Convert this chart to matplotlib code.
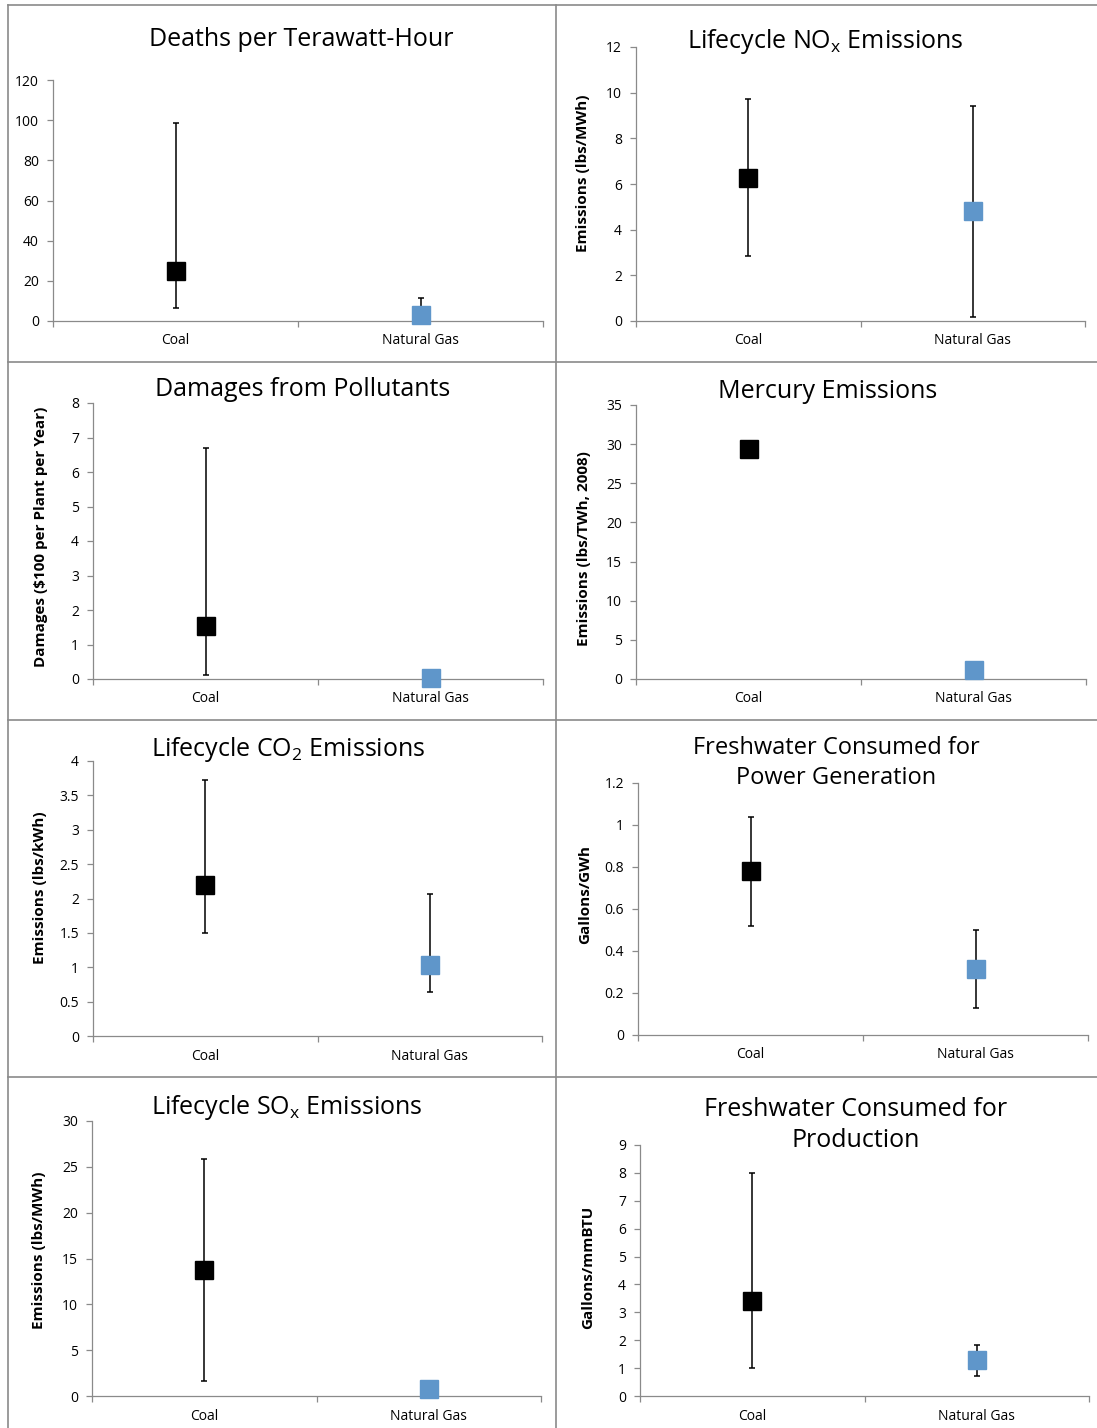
import matplotlib.pyplot as plt
from matplotlib.lines import Line2D

plt.rcParams['font.family'] = ['Open Sans', 'DejaVu Sans']
plt.rcParams['mathtext.fontset'] = 'custom'
plt.rcParams['mathtext.rm'] = 'Open Sans'

W, H = 1097, 1428

categories = ['Coal', 'Natural Gas']
colors = ['#000000', '#5f96ca']

# mid value, low end and high end of the range, per category (None = no bar)
deaths_mid = [24.8, 3.0]
deaths_low = [6.3, 2.0]
deaths_high = [98.4, 11.7]

nox_mid = [6.25, 4.81]
nox_low = [2.83, 0.19]
nox_high = [9.71, 9.43]

damages_mid = [1.55, 0.02]
damages_low = [0.12, None]
damages_high = [6.70, None]

mercury_mid = [29.4, 1.1]
mercury_low = [None, None]
mercury_high = [None, None]

co2_mid = [2.20, 1.03]
co2_low = [1.50, 0.64]
co2_high = [3.72, 2.06]

water_power_mid = [0.78, 0.314]
water_power_low = [0.52, 0.13]
water_power_high = [1.04, 0.50]

sox_mid = [13.76, 0.76]
sox_low = [1.64, None]
sox_high = [25.85, None]

water_prod_mid = [3.41, 1.30]
water_prod_low = [1.02, 0.73]
water_prod_high = [7.99, 1.82]

fig = plt.figure(figsize=(W / 100, H / 100), dpi=100)

# panel frames
border = '#8a8a8a'
for y in [5, 362, 720, 1077]:
    fig.add_artist(Line2D([8 / W, 1], [1 - y / H, 1 - y / H], color=border, lw=1.2))
for x in [8, 556]:
    fig.add_artist(Line2D([x / W, x / W], [0, 1 - 5 / H], color=border, lw=1.2))


def panel(box, ymax, step, mid, low, high, title, title_xy, ylabel=None, ylabel_xy=None,
          title_size=18):
    left, top, right, bottom = box
    ax = fig.add_axes([left / W, 1 - bottom / H, (right - left) / W, (bottom - top) / H])
    xs = [0.5, 1.5]
    for x, m, lo, hi, c in zip(xs, mid, low, high, colors):
        if lo is not None:
            ax.errorbar([x], [m], yerr=[[m - lo], [hi - m]], fmt='none', ecolor='black',
                        elinewidth=1.1, capsize=2.3, capthick=1.1, zorder=2)
        ax.plot([x], [m], marker='s', markersize=12.5, color=c, linestyle='none',
                zorder=3, clip_on=False)
    ax.set_xlim(0, 2)
    ax.set_ylim(0, ymax)
    ticks = []
    v = 0
    while v <= ymax + 1e-9:
        ticks.append(round(v, 6))
        v += step
    ax.set_yticks(ticks)
    ax.set_yticklabels(['{:g}'.format(t) for t in ticks])
    ax.set_xticks(xs)
    ax.set_xticklabels(categories)
    ax.set_xticks([0, 1, 2], minor=True)
    ax.tick_params(axis='x', which='major', length=0, pad=9, labelsize=10)
    ax.tick_params(axis='x', which='minor', length=4, color=border, width=0.9)
    ax.tick_params(axis='y', length=4, color=border, width=0.9, labelsize=10, pad=6)
    for s in ['top', 'right']:
        ax.spines[s].set_visible(False)
    for s in ['left', 'bottom']:
        ax.spines[s].set_color(border)
        ax.spines[s].set_linewidth(0.9)
    ax.patch.set_alpha(0)
    fig.text(title_xy[0] / W, 1 - title_xy[1] / H, title, ha='center', va='center',
             fontsize=title_size, linespacing=1.3)
    if ylabel:
        fig.text(ylabel_xy[0] / W, 1 - ylabel_xy[1] / H, ylabel, rotation=90,
                 ha='center', va='center', fontsize=11, fontweight='bold')
    return ax


panel((53, 80, 543, 321), 120, 20, deaths_mid, deaths_low, deaths_high,
      'Deaths per Terawatt-Hour', (301, 39))
panel((636, 47, 1085, 321), 12, 2, nox_mid, nox_low, nox_high,
      r'Lifecycle NO$_\mathregular{x}$ Emissions', (825, 42),
      'Emissions (lbs/MWh)', (583, 173))
panel((93, 403, 543, 679), 8, 1, damages_mid, damages_low, damages_high,
      'Damages from Pollutants', (303, 389),
      'Damages ($100 per Plant per Year)', (41, 537))
panel((636, 405, 1086, 679), 35, 5, mercury_mid, mercury_low, mercury_high,
      'Mercury Emissions', (828, 391),
      'Emissions (lbs/TWh, 2008)', (584, 549))
panel((93, 761, 542, 1036), 4, 0.5, co2_mid, co2_low, co2_high,
      r'Lifecycle CO$_\mathregular{2}$ Emissions', (288, 750),
      'Emissions (lbs/kWh)', (40, 888))
panel((638, 783, 1088, 1035), 1.2, 0.2, water_power_mid, water_power_low, water_power_high,
      'Freshwater Consumed for\nPower Generation', (836, 763),
      'Gallons/GWh', (585, 895), title_size=17)
panel((92, 1121, 541, 1396), 30, 5, sox_mid, sox_low, sox_high,
      r'Lifecycle SO$_\mathregular{x}$ Emissions', (287, 1108),
      'Emissions (lbs/MWh)', (39, 1250))
panel((640, 1145, 1089, 1396), 9, 1, water_prod_mid, water_prod_low, water_prod_high,
      'Freshwater Consumed for\nProduction', (856, 1125),
      'Gallons/mmBTU', (588, 1267))

fig.savefig('out.png', dpi=100)
